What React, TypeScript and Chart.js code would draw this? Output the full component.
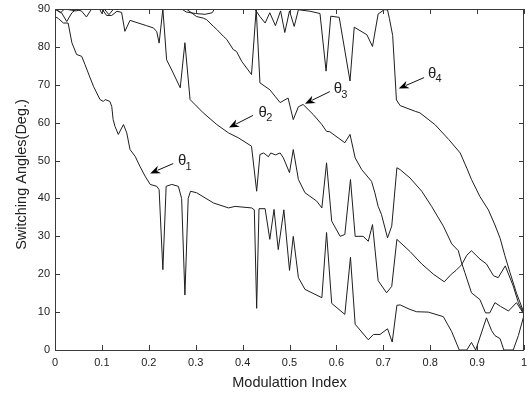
import React, { useEffect, useRef } from "react";
import { Chart, registerables } from "chart.js";

Chart.register(...registerables);

// [modulation index, angle in degrees]
const theta1: [number, number][] = [
  [0, 88], [0.007, 87.5], [0.018, 86.3], [0.028, 86.3], [0.036, 81.1], [0.046, 78], [0.057, 77.5],
  [0.064, 75.3], [0.075, 71.8], [0.082, 69.6], [0.096, 66.1], [0.103, 65.6], [0.107, 66.1], [0.117, 65.6],
  [0.121, 64.3], [0.124, 60.8], [0.128, 59], [0.135, 56.9], [0.146, 59.5], [0.153, 57.3], [0.16, 52.9],
  [0.171, 51.1], [0.181, 48.5], [0.192, 45.9], [0.203, 43.7], [0.217, 43.2], [0.222, 42.3], [0.23, 21.2],
  [0.237, 43.2], [0.249, 43.7], [0.263, 43.2], [0.27, 40], [0.277, 14.5], [0.284, 40], [0.289, 41.9],
  [0.302, 41.5], [0.338, 38.8], [0.37, 37.5], [0.384, 37.9], [0.419, 37.5], [0.425, 37], [0.43, 11],
  [0.435, 37.3], [0.448, 37.3], [0.458, 29.2], [0.467, 37.1], [0.476, 26.5], [0.488, 37], [0.5, 21],
  [0.508, 30], [0.519, 19.1], [0.533, 16], [0.569, 13.8], [0.579, 31], [0.59, 12.3], [0.618, 9.4],
  [0.63, 24.5], [0.64, 6.8], [0.668, 2.7], [0.679, 4.1], [0.693, 4.1], [0.709, 5.6], [0.719, 2.1],
  [0.729, 11.8], [0.736, 11.9], [0.757, 10.7], [0.771, 10.1], [0.796, 10], [0.828, 8.8], [0.846, 4.8],
  [0.862, 0], [0.878, 0], [0.888, 2], [0.897, 0], [0.92, 8.5], [0.931, 5.1], [0.938, 3.8], [0.949, 3],
  [0.957, 0], [0.977, 0], [0.988, 3.8], [1, 9.2],
];

const theta2: [number, number][] = [
  [0, 90], [0.014, 89], [0.025, 86.7], [0.036, 89], [0.046, 90], [0.057, 89.4], [0.067, 87.9], [0.078, 90],
  [0.1, 90], [0.11, 88.3], [0.121, 88.3], [0.132, 89.4], [0.142, 89.1], [0.149, 84.1], [0.16, 87],
  [0.195, 85.6], [0.21, 85], [0.217, 84], [0.222, 81], [0.23, 90], [0.238, 76.6], [0.252, 73.1],
  [0.267, 69.2], [0.277, 81.1], [0.288, 66.1], [0.316, 62.6], [0.345, 59.5], [0.37, 57.3], [0.391, 56],
  [0.419, 53.8], [0.43, 41.9], [0.437, 51.6], [0.445, 52], [0.455, 51], [0.46, 52], [0.47, 51.5],
  [0.48, 52], [0.487, 50.7], [0.5, 46.8], [0.508, 52.9], [0.519, 45], [0.533, 41.5], [0.558, 39.3],
  [0.569, 37.5], [0.579, 49.4], [0.59, 34], [0.608, 30], [0.618, 30.5], [0.63, 45], [0.64, 30],
  [0.657, 30], [0.668, 28.7], [0.677, 33.1], [0.689, 18.3], [0.707, 15.1], [0.718, 16.8], [0.729, 29.2],
  [0.757, 26], [0.782, 22.7], [0.807, 20], [0.83, 18], [0.845, 20], [0.855, 21], [0.867, 22.5],
  [0.878, 25], [0.888, 26.2], [0.906, 24], [0.92, 22.7], [0.935, 19.6], [0.945, 19.1], [0.96, 22.2],
  [0.977, 16.9], [0.988, 12.5], [1, 9.5],
];

const theta3: [number, number][] = [
  [0, 90], [0.012, 89], [0.02, 90], [0.045, 89.5], [0.06, 90], [0.095, 90], [0.1, 88.8], [0.105, 90],
  [0.115, 88.5], [0.125, 90], [0.28, 90], [0.302, 88], [0.316, 87.6], [0.323, 87.2], [0.338, 85.4],
  [0.345, 84.6], [0.359, 82.8], [0.366, 82], [0.38, 79.3], [0.387, 78.8], [0.398, 76.2], [0.419, 72.7],
  [0.429, 90], [0.437, 70.5], [0.458, 68.7], [0.469, 67], [0.48, 65.3], [0.497, 66.5], [0.508, 60.8],
  [0.519, 64.2], [0.529, 64.8], [0.551, 62.1], [0.569, 59.5], [0.579, 57.7], [0.586, 57.6], [0.618, 54.7],
  [0.629, 56.9], [0.64, 50.7], [0.654, 47.6], [0.675, 44.5], [0.682, 41.5], [0.689, 37.9], [0.696, 35.8],
  [0.709, 29.6], [0.718, 32.7], [0.729, 48.1], [0.736, 47.6], [0.757, 45.4], [0.782, 41.9], [0.803, 37.9],
  [0.828, 32.7], [0.846, 28], [0.86, 26.2], [0.867, 23], [0.874, 20.4], [0.888, 15.1], [0.906, 13.3],
  [0.918, 9.8], [0.927, 9.8], [0.938, 12.5], [0.95, 11.5], [0.967, 10.3], [0.984, 12.5], [1, 9.4],
];

const theta4: [number, number][] = [
  [0, 90], [0.27, 90], [0.28, 89.2], [0.3, 88.8], [0.32, 88.6], [0.335, 89], [0.34, 90], [0.426, 90],
  [0.437, 88], [0.448, 86.3], [0.458, 89], [0.47, 85.6], [0.481, 89.5], [0.49, 83.8], [0.5, 89.5],
  [0.51, 85.4], [0.519, 89.8], [0.544, 89.4], [0.565, 88.8], [0.578, 73.6], [0.588, 88.1], [0.606, 87.8],
  [0.629, 71], [0.638, 85.2], [0.665, 83.2], [0.677, 80.1], [0.689, 88.7], [0.702, 89.8], [0.709, 89.8],
  [0.713, 87.5], [0.72, 83], [0.728, 66], [0.736, 64.5], [0.768, 63], [0.778, 62.6], [0.81, 59.5],
  [0.84, 55.5], [0.864, 52], [0.878, 48], [0.888, 45], [0.906, 40.5], [0.924, 37], [0.938, 33],
  [0.949, 29.5], [0.959, 25], [0.97, 20.5], [0.984, 15], [1, 9.8],
];

const xTicks = [0, 0.1, 0.2, 0.3, 0.4, 0.5, 0.6, 0.7, 0.8, 0.9, 1];
const xTickLabels = ["0", "0.1", "0.2", "0.3", "0.4", "0.5", "0.6", "0.7", "0.8", "0.9", "1"];
const yTicks = [0, 10, 20, 30, 40, 50, 60, 70, 80, 90];
const xTitle = "Modulattion Index";
const yTitle = "Switching Angles(Deg.)";

// annotation labels: subscripts, label anchor, arrow tail and arrow head (data units)
const labelSubs = ["1", "2", "3", "4"];
const labelX = [0.271, 0.443, 0.603, 0.804];
const labelY = [49.8, 62.7, 69, 73];
const tailX = [0.252, 0.422, 0.586, 0.787];
const tailY = [49.2, 61.9, 68.2, 71.9];
const headX = [0.203, 0.371, 0.533, 0.733];
const headY = [46.6, 58.7, 65.0, 69.0];

const series = [theta1, theta2, theta3, theta4];

const decor = {
  id: "decor",
  afterDatasetsDraw(chart: any) {
    const { ctx, chartArea: a, scales } = chart;
    const xs = scales.x;
    const ys = scales.y;
    ctx.save();
    // frame
    ctx.strokeStyle = "#3a3a3a";
    ctx.lineWidth = 1;
    ctx.strokeRect(a.left + 0.5, a.top + 0.5, a.right - a.left - 1, a.bottom - a.top);
    // ticks (inward)
    const tl = 5;
    ctx.beginPath();
    xTicks.forEach((v) => {
      const px = Math.round(xs.getPixelForValue(v)) + 0.5;
      ctx.moveTo(px, a.bottom);
      ctx.lineTo(px, a.bottom - tl);
      ctx.moveTo(px, a.top);
      ctx.lineTo(px, a.top + tl);
    });
    yTicks.forEach((v) => {
      const py = Math.round(ys.getPixelForValue(v)) + 0.5;
      ctx.moveTo(a.left, py);
      ctx.lineTo(a.left + tl, py);
      ctx.moveTo(a.right, py);
      ctx.lineTo(a.right - tl, py);
    });
    ctx.stroke();
    // tick labels
    ctx.fillStyle = "#222";
    ctx.font = "11px Arial, 'Liberation Sans', sans-serif";
    ctx.textAlign = "center";
    ctx.textBaseline = "top";
    xTicks.forEach((v, i) => {
      ctx.fillText(xTickLabels[i], xs.getPixelForValue(v), a.bottom + 7);
    });
    ctx.textAlign = "right";
    ctx.textBaseline = "middle";
    yTicks.forEach((v) => {
      ctx.fillText(String(v), a.left - 5, ys.getPixelForValue(v));
    });
    // titles
    ctx.font = "14.5px Arial, 'Liberation Sans', sans-serif";
    ctx.textAlign = "center";
    ctx.textBaseline = "middle";
    ctx.fillText(xTitle, (a.left + a.right) / 2, a.bottom + 33);
    ctx.save();
    ctx.translate(21.5, (a.top + a.bottom) / 2 - 5);
    ctx.rotate(-Math.PI / 2);
    ctx.fillText(yTitle, 0, 0);
    ctx.restore();
    // annotations
    labelSubs.forEach((s, i) => {
      const lx = xs.getPixelForValue(labelX[i]);
      const ly = ys.getPixelForValue(labelY[i]);
      ctx.fillStyle = "#222";
      ctx.font = "15px Arial, 'Liberation Sans', sans-serif";
      ctx.textAlign = "center";
      ctx.textBaseline = "middle";
      ctx.fillText("\u03b8", lx, ly);
      ctx.font = "11px Arial, 'Liberation Sans', sans-serif";
      ctx.textAlign = "left";
      ctx.fillText(s, lx + 3.5, ly + 6);
      const tx = xs.getPixelForValue(tailX[i]);
      const ty = ys.getPixelForValue(tailY[i]);
      const hx = xs.getPixelForValue(headX[i]);
      const hy = ys.getPixelForValue(headY[i]);
      const ang = Math.atan2(hy - ty, hx - tx);
      const hl = 10;
      const hw = 4;
      ctx.strokeStyle = "#111";
      ctx.lineWidth = 1;
      ctx.beginPath();
      ctx.moveTo(tx, ty);
      ctx.lineTo(hx - Math.cos(ang) * (hl - 2), hy - Math.sin(ang) * (hl - 2));
      ctx.stroke();
      ctx.fillStyle = "#000";
      ctx.beginPath();
      ctx.moveTo(hx, hy);
      const bx = hx - Math.cos(ang) * hl;
      const by = hy - Math.sin(ang) * hl;
      ctx.lineTo(bx + Math.sin(ang) * hw, by - Math.cos(ang) * hw);
      ctx.lineTo(hx - Math.cos(ang) * (hl - 3), hy - Math.sin(ang) * (hl - 3));
      ctx.lineTo(bx - Math.sin(ang) * hw, by + Math.cos(ang) * hw);
      ctx.closePath();
      ctx.fill();
    });
    ctx.restore();
  },
};

export default function App() {
  const ref = useRef<HTMLCanvasElement | null>(null);
  useEffect(() => {
    if (!ref.current) return;
    const chart = new Chart(ref.current, {
      type: "line",
      data: {
        datasets: series.map((s, i) => ({
          label: "theta" + (i + 1),
          data: s.map(([x, y]) => ({ x, y })),
          borderColor: "#1e1e1e",
          borderWidth: 1,
          pointRadius: 0,
          tension: 0,
          fill: false,
        })),
      },
      options: {
        responsive: false,
        animation: false,
        events: [],
        layout: { padding: { left: 55, right: 4, top: 9, bottom: 45 } },
        plugins: { legend: { display: false }, tooltip: { enabled: false } },
        scales: {
          x: { type: "linear", min: 0, max: 1, display: false },
          y: { type: "linear", min: 0, max: 90, display: false },
        },
      },
      plugins: [decor],
    });
    return () => chart.destroy();
  }, []);
  return (
    <div style={{ position: "fixed", left: 0, top: 0, width: 528, height: 395, background: "#fff" }}>
      <canvas ref={ref} width={528} height={395} style={{ width: 528, height: 395 }} />
    </div>
  );
}
